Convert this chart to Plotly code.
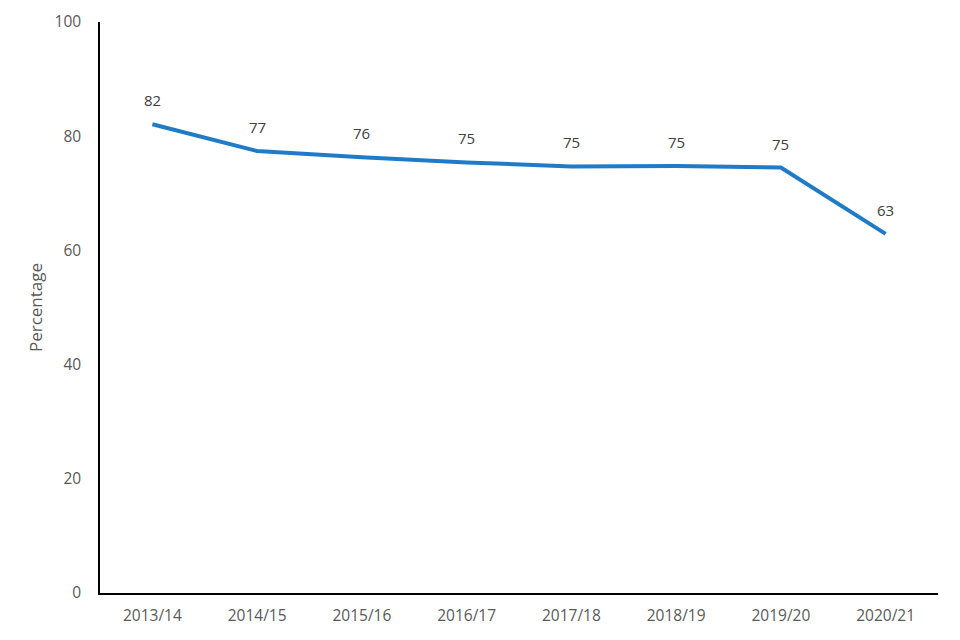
import plotly.graph_objects as go

years = ["2013/14", "2014/15", "2015/16", "2016/17", "2017/18", "2018/19", "2019/20", "2020/21"]
percentages = [82.1, 77.4, 76.3, 75.4, 74.7, 74.8, 74.5, 62.9]
labels = ["82", "77", "76", "75", "75", "75", "75", "63"]
y_ticks = [0, 20, 40, 60, 80, 100]

font_family = "Open Sans, Noto Sans, sans-serif"
grey = "#595959"

fig = go.Figure()
fig.add_trace(go.Scatter(
    x=years, y=percentages, mode="lines",
    line=dict(color="#1f7bc8", width=4),
    hoverinfo="skip", showlegend=False,
))

for x, y, t in zip(years, percentages, labels):
    fig.add_annotation(x=x, y=y, text=t, showarrow=False, yshift=24,
                       font=dict(family=font_family, size=15, color="#404040"))

fig.update_layout(
    width=960, height=640,
    margin=dict(l=92, r=30, t=14, b=55),
    plot_bgcolor="white", paper_bgcolor="white",
    font=dict(family=font_family, size=15, color=grey),
    xaxis=dict(
        type="category", showgrid=False, zeroline=False, automargin=False,
        showline=True, linecolor="black", linewidth=1.5,
        ticks="outside", ticklen=8, tickcolor="rgba(0,0,0,0)",
        tickfont=dict(size=15.5, color=grey),
        range=[-0.5, len(years) - 0.5],
    ),
    yaxis=dict(
        range=[0, 100], tickvals=y_ticks, showgrid=False, zeroline=False,
        automargin=False,
        showline=True, linecolor="black", linewidth=1.5,
        ticks="outside", ticklen=14, tickcolor="rgba(0,0,0,0)",
        tickfont=dict(size=15.5, color=grey),
        title=dict(text="Percentage", font=dict(size=17, color=grey), standoff=8),
    ),
)

fig.write_html("out.html")
